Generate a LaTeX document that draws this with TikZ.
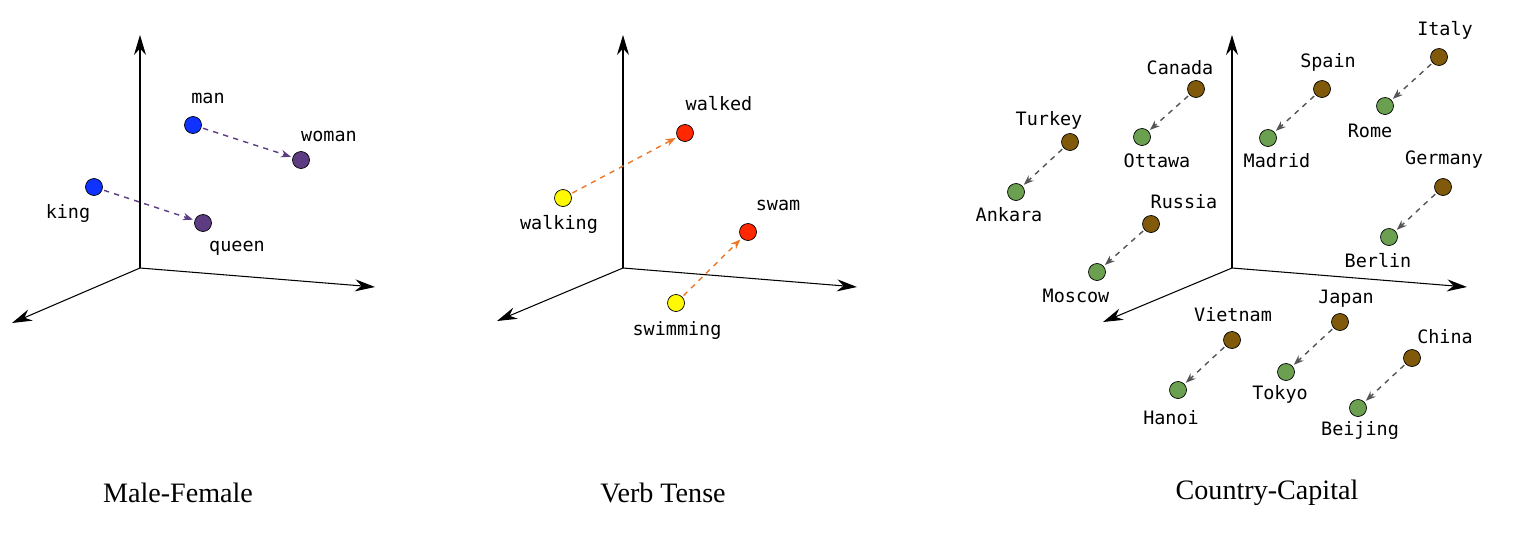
\documentclass[tikz,border=0pt]{standalone}
\usepackage{fontspec}
\setmainfont{Liberation Serif}
\setmonofont{DejaVu Sans Mono}
\usetikzlibrary{arrows.meta, positioning}
\definecolor{vecBlue}{RGB}{16, 50, 255}
\definecolor{vecPurple}{RGB}{94, 60, 130}
\definecolor{vecRed}{RGB}{255, 40, 0}
\definecolor{vecYellow}{RGB}{255, 250, 0}
\definecolor{vecBrown}{RGB}{128, 90, 10}
\definecolor{vecGreen}{RGB}{106, 160, 80}
\definecolor{vecOrange}{RGB}{235, 120, 40}
\definecolor{vecGrey}{RGB}{85, 85, 85}

\begin{document}
\begin{tikzpicture}[
    x=0.02cm, y=-0.02cm,
    axis/.style={-{Stealth[length=4mm,width=2.4mm]}, semithick},
    dot/.style={circle, draw=black, fill=#1, inner sep=0pt, minimum size=0.34cm},
    word/.style={font=\ttfamily\fontsize{10.5}{12}\selectfont},
    link/.style={-{Stealth[length=2mm,width=1.5mm]}, dashed, thick, draw=#1, shorten >=1pt, shorten <=1pt},
    title/.style={font=\fontsize{16}{19}\selectfont}
]
\useasboundingbox (0,0) rectangle (1530,541);

% Male-Female
\coordinate (o1) at (140,268);
\draw[axis] (o1) -- (140,35);
\draw[axis] (o1) -- (375,287);
\draw[axis] (o1) -- (12,323);
\node[dot=vecBlue] (man) at (193,125) {};
\node[dot=vecPurple] (woman) at (301,160) {};
\node[dot=vecBlue] (king) at (94,187) {};
\node[dot=vecPurple] (queen) at (203,223) {};
\node[word] at (208,98) {man};
\node[word] at (329,136) {woman};
\node[word] at (68,213) {king};
\node[word] at (237,248) {queen};
\draw[link=vecPurple] (man) -- (woman);
\draw[link=vecPurple] (king) -- (queen);
\node[title] (t1) at (178,493) {Male-Female};

% Verb Tense
\coordinate (o2) at (623,268);
\draw[axis] (o2) -- (623,35);
\draw[axis] (o2) -- (857,287);
\draw[axis] (o2) -- (497,321);
\node[dot=vecRed] (walked) at (685,133) {};
\node[dot=vecYellow] (walking) at (563,198) {};
\node[dot=vecRed] (swam) at (748,232) {};
\node[dot=vecYellow] (swimming) at (676,303) {};
\node[word] at (719,104) {walked};
\node[word] at (559,224) {walking};
\node[word] at (778,205) {swam};
\node[word] at (677,330) {swimming};
\draw[link=vecOrange] (walking) -- (walked);
\draw[link=vecOrange] (swimming) -- (swam);
\node[title] (t2) at (663,493) {Verb Tense};

% Country-Capital
\coordinate (o3) at (1232,268);
\draw[axis] (o3) -- (1232,35);
\draw[axis] (o3) -- (1467,287);
\draw[axis] (o3) -- (1103,322);
\foreach \cx/\cy/\lx/\ly/\ctry/\px/\py/\mx/\my/\cap in {
    1070/142/1049/120/Turkey/1016/192/1009/215/Ankara,
    1196/89/1180/68/Canada/1142/137/1157/161/Ottawa,
    1322/89/1328/62/Spain/1268/138/1277/161/Madrid,
    1439/57/1445/30/Italy/1385/106/1370/131/Rome,
    1443/187/1444/160/Germany/1389/237/1378/261/Berlin,
    1151/224/1184/202/Russia/1097/272/1076/296/Moscow,
    1232/340/1233/315/Vietnam/1178/390/1171/418/Hanoi,
    1340/322/1346/299/Japan/1286/372/1280/394/Tokyo,
    1412/358/1445/337/China/1358/408/1360/430/Beijing} {
  \node[dot=vecBrown] (c-\ctry) at (\cx,\cy) {};
  \node[dot=vecGreen] (p-\ctry) at (\px,\py) {};
  \node[word] at (\lx,\ly) {\ctry};
  \node[word] at (\mx,\my) {\cap};
  \draw[link=vecGrey] (c-\ctry) -- (p-\ctry);
}
\node[title] (t3) at (1267,493) {Country-Capital};

\end{tikzpicture}
\end{document}
